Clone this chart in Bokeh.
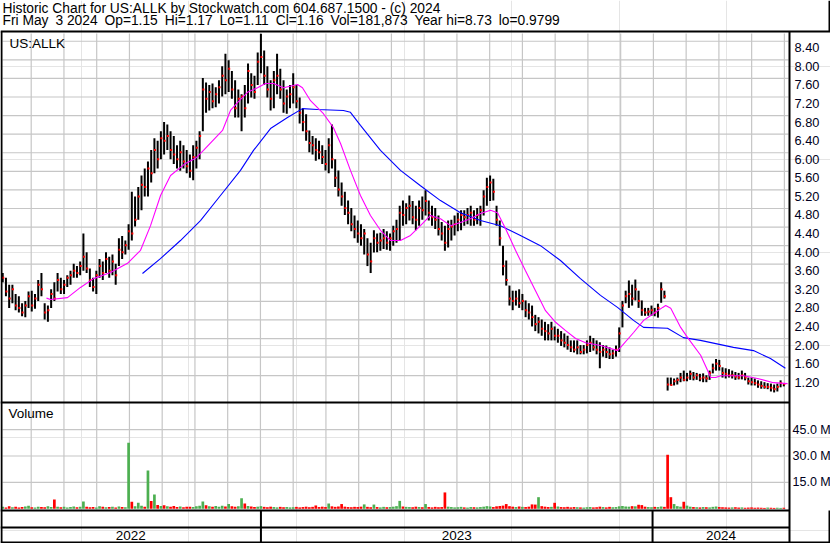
from bokeh.plotting import figure
from bokeh.models import Range1d
from bokeh.embed import file_html
from bokeh.resources import INLINE
from bokeh.core.properties import value

# ---------------- data ----------------
symbol = "US:ALLK"
title_line1 = "Historic Chart for US:ALLK by Stockwatch.com 604.687.1500 - (c) 2024"
title_line2 = "Fri May  3 2024  Op=1.15  Hi=1.17  Lo=1.11  Cl=1.16  Vol=181,873  Year hi=8.73  lo=0.9799"

bar_start_day = 127      # days since 2022-01-01 of the first bar
bar_step = 3             # one bar every 3 calendar days

highs = [3.55, 3.45, 3.30, 3.30, 3.10, 3.05, 2.90, 2.95, 3.15, 3.17,
         3.10, 3.40, 3.55, 2.90, 2.85, 3.20, 3.35, 3.55, 3.45, 3.40,
         3.50, 3.60, 3.75, 3.70, 3.80, 4.40, 4.00, 3.65, 3.45, 3.60,
         3.85, 3.80, 4.00, 3.90, 3.95, 3.75, 4.30, 4.35, 4.25, 4.60,
         5.30, 5.20, 5.40, 5.65, 5.80, 5.95, 6.20, 6.45, 6.40, 6.60,
         6.80, 6.75, 6.60, 6.50, 6.30, 6.40, 6.30, 6.20, 6.10, 6.30,
         6.40, 6.60, 7.75, 7.65, 7.60, 7.63, 7.55, 7.70, 8.00, 8.27,
         8.13, 7.90, 7.70, 7.50, 7.40, 7.60, 8.06, 7.85, 7.80, 8.30,
         8.70, 8.34, 8.00, 7.70, 7.90, 8.27, 7.95, 7.70, 7.50, 7.60,
         7.85, 7.60, 7.33, 7.10, 6.97, 6.62, 6.50, 6.45, 6.40, 6.30,
         6.20, 6.45, 6.75, 6.00, 5.76, 5.50, 5.30, 5.11, 4.95, 4.79,
         4.68, 4.60, 4.50, 4.30, 4.20, 4.47, 4.40, 4.42, 4.50, 4.45,
         4.40, 4.57, 4.70, 5.00, 5.11, 5.05, 5.22, 5.10, 5.00, 5.11,
         5.20, 5.33, 5.11, 5.00, 4.95, 4.79, 4.65, 4.57, 4.68, 4.70,
         4.79, 4.85, 4.90, 4.90, 4.95, 5.00, 4.90, 4.95, 5.00, 5.33,
         5.60, 5.65, 5.58, 5.00, 4.68, 4.14, 3.82, 3.28, 3.17, 3.17,
         3.20, 3.10, 2.96, 2.90, 2.85, 2.65, 2.60, 2.55, 2.50, 2.45,
         2.50, 2.40, 2.35, 2.30, 2.25, 2.20, 2.10, 2.10, 2.10, 2.00,
         2.00, 2.10, 2.20, 2.15, 2.10, 2.06, 2.00, 1.99, 1.95, 1.90,
         1.99, 2.38, 2.95, 3.17, 3.39, 3.30, 3.41, 3.17, 2.96, 2.80,
         2.80, 2.85, 2.80, 2.89, 3.35, 3.17, 1.30, 1.30, 1.28, 1.30,
         1.40, 1.45, 1.40, 1.45, 1.42, 1.40, 1.38, 1.39, 1.35, 1.45,
         1.60, 1.70, 1.68, 1.52, 1.50, 1.48, 1.45, 1.42, 1.40, 1.45,
         1.40, 1.30, 1.30, 1.28, 1.24, 1.22, 1.20, 1.18, 1.17, 1.15,
         1.17, 1.24, 1.17]

lows = [3.35, 3.05, 2.80, 2.90, 2.75, 2.70, 2.62, 2.60, 2.80, 2.72,
        2.78, 2.95, 3.05, 2.55, 2.50, 2.80, 2.95, 3.15, 3.10, 3.10,
        3.25, 3.30, 3.45, 3.45, 3.50, 3.60, 3.55, 3.25, 3.15, 3.10,
        3.45, 3.40, 3.55, 3.45, 3.50, 3.30, 3.70, 3.85, 3.95, 4.05,
        4.25, 4.55, 4.70, 4.90, 5.20, 5.20, 5.50, 5.70, 5.80, 6.00,
        6.10, 6.20, 6.00, 5.90, 5.80, 5.75, 5.80, 5.70, 5.60, 5.55,
        5.80, 6.00, 6.60, 7.00, 7.05, 7.10, 7.12, 7.20, 7.35, 7.40,
        7.45, 7.30, 6.90, 6.90, 6.60, 6.90, 7.20, 7.33, 7.30, 7.60,
        7.85, 7.60, 7.33, 7.05, 7.10, 7.40, 7.30, 7.00, 6.98, 7.10,
        7.20, 7.10, 6.77, 6.60, 6.40, 6.15, 6.10, 5.97, 6.00, 5.90,
        5.76, 5.70, 5.80, 5.40, 5.20, 5.00, 4.80, 4.60, 4.45, 4.30,
        4.20, 4.14, 3.95, 3.70, 3.55, 3.99, 4.00, 4.03, 4.07, 4.05,
        4.03, 4.14, 4.20, 4.25, 4.57, 4.60, 4.68, 4.60, 4.47, 4.57,
        4.70, 4.79, 4.68, 4.57, 4.50, 4.36, 4.25, 4.03, 4.10, 4.25,
        4.36, 4.45, 4.47, 4.57, 4.60, 4.57, 4.57, 4.60, 4.57, 4.79,
        5.00, 5.10, 5.11, 4.57, 4.14, 3.50, 3.28, 2.85, 2.75, 2.85,
        2.80, 2.75, 2.60, 2.55, 2.40, 2.30, 2.25, 2.20, 2.10, 2.10,
        2.10, 2.10, 2.05, 1.98, 1.95, 1.90, 1.85, 1.84, 1.80, 1.80,
        1.80, 1.82, 1.85, 1.88, 1.80, 1.50, 1.75, 1.72, 1.70, 1.70,
        1.75, 1.85, 2.38, 2.90, 2.80, 2.85, 2.96, 2.80, 2.63, 2.63,
        2.63, 2.63, 2.62, 2.59, 2.91, 3.00, 1.02, 1.13, 1.13, 1.15,
        1.20, 1.22, 1.22, 1.25, 1.24, 1.25, 1.22, 1.20, 1.20, 1.25,
        1.39, 1.45, 1.45, 1.30, 1.28, 1.30, 1.28, 1.25, 1.26, 1.26,
        1.24, 1.15, 1.13, 1.13, 1.08, 1.06, 1.06, 1.05, 1.00, 0.98,
        1.00, 1.09, 1.11]

closes = [3.45, 3.15, 3.00, 3.20, 2.85, 2.80, 2.70, 2.85, 3.05, 2.85,
          3.00, 3.30, 3.20, 2.70, 2.75, 3.10, 3.00, 3.40, 3.20, 3.30,
          3.45, 3.50, 3.60, 3.55, 3.70, 3.90, 3.65, 3.40, 3.25, 3.50,
          3.70, 3.55, 3.85, 3.60, 3.80, 3.50, 4.05, 4.00, 4.15, 4.45,
          4.40, 4.70, 5.20, 5.45, 5.40, 5.80, 5.70, 6.20, 6.00, 6.45,
          6.40, 6.50, 6.20, 6.10, 6.00, 6.15, 5.95, 5.85, 5.75, 6.05,
          6.25, 6.50, 7.50, 7.30, 7.45, 7.25, 7.40, 7.55, 7.80, 7.70,
          7.95, 7.50, 7.10, 7.30, 7.35, 7.10, 7.90, 7.60, 7.45, 8.10,
          8.20, 7.80, 7.50, 7.30, 7.70, 7.80, 7.50, 7.20, 7.35, 7.40,
          7.55, 7.25, 7.00, 6.80, 6.60, 6.35, 6.30, 6.20, 6.15, 6.05,
          5.90, 6.30, 6.00, 5.60, 5.35, 5.20, 4.95, 4.85, 4.60, 4.50,
          4.40, 4.30, 4.40, 3.95, 3.80, 4.30, 4.20, 4.25, 4.30, 4.20,
          4.30, 4.45, 4.50, 4.85, 4.80, 4.95, 5.00, 4.75, 4.70, 4.95,
          4.90, 5.10, 4.85, 4.75, 4.70, 4.50, 4.40, 4.20, 4.50, 4.55,
          4.60, 4.70, 4.80, 4.75, 4.80, 4.85, 4.70, 4.80, 4.90, 5.20,
          5.40, 5.50, 5.30, 4.70, 4.30, 3.70, 3.40, 3.00, 2.95, 3.00,
          2.90, 2.95, 2.75, 2.70, 2.60, 2.45, 2.50, 2.35, 2.30, 2.25,
          2.35, 2.20, 2.20, 2.10, 2.05, 2.00, 1.95, 1.90, 1.95, 1.85,
          1.90, 2.00, 2.05, 1.95, 1.90, 1.85, 1.90, 1.85, 1.80, 1.82,
          1.90, 2.25, 2.85, 3.05, 3.10, 3.00, 3.20, 2.95, 2.75, 2.70,
          2.72, 2.75, 2.70, 2.80, 3.20, 3.05, 1.15, 1.14, 1.22, 1.25,
          1.30, 1.25, 1.30, 1.38, 1.30, 1.35, 1.28, 1.30, 1.28, 1.40,
          1.50, 1.60, 1.55, 1.40, 1.38, 1.35, 1.35, 1.32, 1.30, 1.35,
          1.30, 1.22, 1.20, 1.18, 1.15, 1.12, 1.10, 1.10, 1.08, 1.05,
          1.10, 1.18, 1.16]

volumes_m = [1.2, 0.8, 1.5, 0.9, 1.1, 0.7, 1.0, 1.3, 1.8, 0.9,
             0.8, 1.2, 1.0, 0.9, 1.4, 1.0, 5.3, 1.1, 0.9, 1.2,
             0.8, 1.0, 1.3, 0.9, 1.1, 4.2, 1.2, 0.9, 1.0, 0.8,
             1.5, 1.1, 0.9, 1.0, 1.2, 0.8, 1.3, 1.0, 0.9, 37.5,
             4.0, 1.5, 3.4, 1.8, 1.2, 21.8, 4.5, 8.1, 2.2, 1.6,
             2.0, 1.4, 1.2, 1.6, 1.0, 1.3, 0.9, 1.1, 1.2, 1.0,
             1.4, 1.8, 4.2, 2.0, 1.5, 1.2, 1.6, 1.1, 1.8, 1.3,
             2.7, 1.5, 1.2, 1.4, 6.0, 3.0, 1.6, 1.3, 1.0, 1.2,
             1.5, 1.1, 0.9, 1.2, 1.0, 0.8, 1.1, 0.9, 1.0, 0.8,
             0.9, 1.1, 0.8, 1.0, 1.2, 0.9, 1.1, 1.9, 1.0, 1.2,
             1.0, 3.0, 1.4, 1.1, 1.3, 2.7, 1.2, 1.0, 0.9, 1.1,
             1.0, 1.2, 2.5, 1.1, 0.9, 2.4, 1.0, 0.8, 1.1, 0.9,
             1.0, 1.2, 1.5, 4.5, 1.3, 1.1, 1.0, 0.9, 1.2, 1.0,
             0.9, 2.7, 1.0, 0.8, 1.1, 0.9, 1.0, 9.3, 1.2, 1.0,
             0.8, 0.9, 1.1, 0.8, 0.7, 1.0, 0.9, 0.8, 1.0, 1.2,
             1.5, 1.3, 1.0, 1.4, 1.6, 1.8, 2.7, 1.5, 1.2, 1.0,
             1.3, 1.1, 1.0, 1.2, 2.5, 2.4, 6.6, 1.5, 1.2, 1.0,
             1.1, 3.4, 1.3, 1.0, 0.9, 1.1, 0.8, 1.0, 0.9, 0.8,
             0.7, 0.9, 1.0, 0.8, 0.9, 1.2, 1.0, 0.8, 1.1, 0.9,
             1.0, 1.4, 1.6, 1.3, 1.2, 1.5, 1.4, 2.3, 2.1, 1.2,
             1.0, 0.9, 1.1, 1.0, 1.3, 1.1, 30.7, 6.6, 2.7, 1.5,
             1.2, 4.0, 1.8, 1.2, 1.0, 0.9, 0.8, 1.0, 0.9, 0.8,
             1.1, 1.3, 1.0, 0.9, 0.8, 0.7, 0.8, 0.9, 0.7, 0.8,
             0.6, 0.7, 0.8, 0.6, 0.7, 0.6, 0.5, 0.7, 0.6, 0.5,
             0.6, 0.5, 0.6]

# moving averages (magenta = short, blue = long), read as vertices
ma_short_days = [167.7, 171.4, 187.2, 199.3, 211.4, 227.2, 243.0, 255.1, 264.4, 273.7,
                 283.0, 296.9, 306.2, 313.6, 331.3, 338.7, 345.2, 354.5, 363.8, 371.2,
                 378.7, 388.0, 401.0, 405.6, 413.1, 425.1, 434.4, 441.0, 450.2, 459.5,
                 468.8, 478.1, 487.4, 496.7, 506.0, 515.3, 524.6, 533.9, 543.2, 552.5,
                 561.8, 571.1, 580.4, 586.9, 594.3, 603.6, 612.9, 622.2, 631.5, 640.9,
                 650.2, 659.5, 668.8, 682.7, 698.5, 701.3, 713.4, 722.7, 732.1, 740.4,
                 743.2, 747.9, 757.1, 763.6, 775.7, 782.2, 785.0, 789.7, 794.3, 815.7,
                 828.5, 843.4, 856.5]
ma_short = [3.01, 2.98, 3.02, 3.24, 3.43, 3.56, 3.76, 4.04, 4.57, 5.22,
            5.65, 5.91, 6.02, 6.19, 6.62, 7.05, 7.22, 7.44, 7.54, 7.63,
            7.63, 7.54, 7.61, 7.54, 7.26, 6.98, 6.68, 6.34, 5.76, 5.22,
            4.79, 4.47, 4.25, 4.25, 4.36, 4.57, 4.79, 4.72, 4.57, 4.64,
            4.72, 4.83, 4.90, 4.85, 4.51, 4.04, 3.60, 3.17, 2.74, 2.49,
            2.31, 2.14, 2.05, 1.99, 1.88, 1.95, 2.27, 2.53, 2.68, 2.81,
            2.85, 2.79, 2.38, 2.16, 1.78, 1.45, 1.30, 1.30, 1.34, 1.34,
            1.28, 1.19, 1.17]

ma_long_days = [256.9, 273.6, 292.2, 310.8, 329.4, 348.0, 360.1, 375.9, 391.7, 405.6,
                419.6, 443.7, 450.2, 459.5, 478.1, 496.7, 515.3, 533.9, 552.5, 571.1,
                589.6, 608.2, 626.8, 645.4, 664.0, 682.6, 698.4, 713.3, 722.6, 744.9,
                759.7, 775.5, 806.2, 824.8, 840.6, 854.5]
ma_long = [3.54, 3.86, 4.25, 4.68, 5.22, 5.76, 6.19, 6.66, 6.90, 7.09,
           7.07, 7.05, 7.01, 6.73, 6.19, 5.76, 5.43, 5.11, 4.85, 4.68,
           4.57, 4.36, 4.14, 3.82, 3.43, 3.07, 2.81, 2.53, 2.38, 2.36,
           2.16, 2.10, 1.95, 1.88, 1.71, 1.50]

price_ticks = [1.20, 1.60, 2.00, 2.40, 2.80, 3.20, 3.60, 4.00, 4.40, 4.80,
               5.20, 5.60, 6.00, 6.40, 6.80, 7.20, 7.60, 8.00, 8.40]
volume_ticks = [15.0, 30.0, 45.0]
year_labels = ["2022", "2023", "2024"]
year_start_days = [367, 731]   # first trading day of 2023 and of 2024

# ---------------- layout (pixel geometry of the 830x543 reference) ----------------
W, H = 830, 543
DAY0, PX_PER_DAY = 126.8, 1.0759          # x: column 2 <-> day 126.8
PX_PER_DOLLAR = 46.45                     # price: 1.20 at row 381.7
PX_PER_MVOL = 26.4 / 15.0                 # volume: 0 at row 508.3


def xd(X):
    return DAY0 + (X - 2) / PX_PER_DAY


def yp(Y):
    return 1.2 + (381.7 - Y) / PX_PER_DOLLAR


def yv(Y):
    return (508.3 - Y) / PX_PER_MVOL


p = figure(width=W, height=H, output_backend="svg", toolbar_location=None,
           x_range=Range1d(xd(0), xd(W)), y_range=Range1d(yp(H), yp(0)),
           x_axis_location=None, y_axis_location=None, min_border=0,
           outline_line_color=None, background_fill_color="white",
           border_fill_color="white")
p.extra_y_ranges = {"vol": Range1d(yv(H), yv(0))}

GRID = "#c6c6c6"
FONT = value("Liberation Sans")
FS = "13.5px"
FS_HEAD = "13.8px"
FS_AX = "12.8px"

# grid: vertical month lines across price + volume panels
month_lines = [xd(30.7) + k * 365.25 / 12 for k in range(24)]
p.segment(x0=month_lines, x1=month_lines, y0=[yp(33)] * 24, y1=[yp(509)] * 24,
          line_color=GRID, line_width=1.2)
# horizontal price grid (lines sit just above each label)
gy = [t + 6.5 / PX_PER_DOLLAR for t in price_ticks]
p.segment(x0=[xd(2)] * len(gy), x1=[xd(788)] * len(gy), y0=gy, y1=gy,
          line_color=GRID, line_width=1.2)
p.segment(x0=[xd(2)] * 3, x1=[xd(788)] * 3, y0=volume_ticks, y1=volume_ticks,
          line_color=GRID, line_width=1.2, y_range_name="vol")

# price bars
n = len(highs)
days = [bar_start_day + bar_step * i for i in range(n)]
p.segment(x0=days, x1=days, y0=lows, y1=highs, line_color="black", line_width=2)
p.scatter(x=[d + 0.5 for d in days], y=closes, marker="square", size=2.0,
          fill_color="#ff0000", line_color=None)

# moving averages
p.line(ma_long_days, ma_long, line_color="#0000ff", line_width=1.1)
p.line(ma_short_days, ma_short, line_color="#ff00ff", line_width=1.1)

# volume bars: green when close rose, red otherwise
vcol = ["#4caf50" if (i == 0 or closes[i] >= closes[i - 1]) else "#ff0000" for i in range(n)]
p.vbar(x=days, top=volumes_m, bottom=0, width=2.5, fill_color=vcol, line_color=None,
       y_range_name="vol")

# frame lines
K = "black"
p.segment(x0=[xd(0), xd(0), xd(0), xd(0), xd(0)],
          x1=[xd(830), xd(789), xd(789), xd(789), xd(830)],
          y0=[yp(31), yp(402), yp(510), yp(527), yp(542)],
          y1=[yp(31), yp(402), yp(510), yp(527), yp(542)],
          line_color=K, line_width=2)
p.segment(x0=[xd(1), xd(789), xd(829), xd(829)] + year_start_days,
          x1=[xd(1), xd(789), xd(829), xd(829)] + year_start_days,
          y0=[yp(31), yp(31), yp(0), yp(510)] + [yp(510)] * 2,
          y1=[yp(542), yp(542), yp(31), yp(542)] + [yp(542)] * 2,
          line_color=K, line_width=2)

# texts (double gaps of the header kept with en spaces)
wide = lambda s: s.replace("  ", "\u2002")
p.text(x=[xd(2), xd(2)], y=[yp(8), yp(20)], text=[title_line1, wide(title_line2)],
       text_font=FONT, text_font_size=FS_HEAD, text_color="black",
       text_align="left", text_baseline="middle")
p.text(x=[xd(9)], y=[yp(43)], text=[symbol], text_font=FONT, text_font_size=FS,
       text_color="black", text_align="left", text_baseline="middle")
p.text(x=[xd(8)], y=[yv(413)], text=["Volume"], text_font=FONT, text_font_size=FS,
       text_color="black", text_align="left", text_baseline="middle", y_range_name="vol")
p.text(x=[xd(794)] * len(price_ticks), y=price_ticks, text=[f"{t:.2f}" for t in price_ticks],
       text_font=FONT, text_font_size=FS_AX, text_color="#000020",
       text_align="left", text_baseline="middle")
p.text(x=[xd(792)] * 3, y=volume_ticks, text=[f"{v:.1f} M" for v in volume_ticks],
       text_font=FONT, text_font_size="12.5px", text_color="#000020",
       text_align="left", text_baseline="middle", y_range_name="vol")
bounds = [xd(0)] + year_start_days + [xd(789)]
year_x = [(bounds[i] + bounds[i + 1]) / 2 for i in range(3)]
p.text(x=year_x, y=[yp(535)] * 3, text=year_labels, text_font=FONT, text_font_size=FS,
       text_color="black", text_align="center", text_baseline="middle")

open("out.html", "w").write(file_html(p, INLINE))
